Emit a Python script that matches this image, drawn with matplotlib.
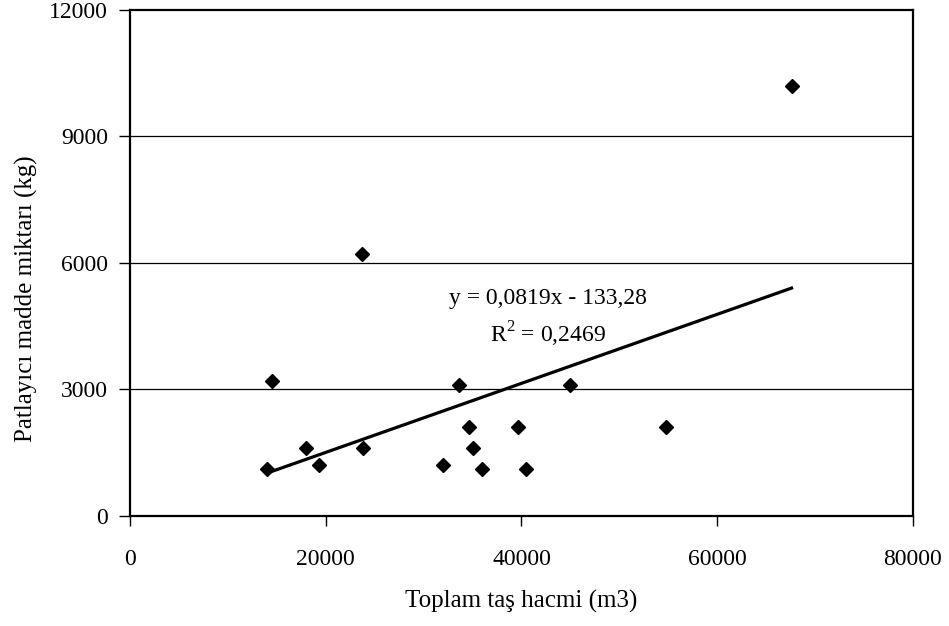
import numpy as np
import matplotlib
matplotlib.use("Agg")
import matplotlib.pyplot as plt

# rock volume (m3) vs explosive amount (kg)
volume = [14000, 14500, 18000, 19300, 23700, 23800, 32000, 33600,
          34600, 35000, 36000, 39600, 40500, 45000, 54800, 67600]
explosive = [1100, 3200, 1600, 1200, 6200, 1600, 1200, 3100,
             2100, 1600, 1100, 2100, 1100, 3100, 2100, 10200]

# linear trend as given on the chart
slope = 0.0819
intercept = -133.28
r_squared = 0.2469

x_ticks = [0, 20000, 40000, 60000, 80000]
y_ticks = [0, 3000, 6000, 9000, 12000]

plt.rcParams["font.family"] = ["Liberation Serif", "DejaVu Serif"]
plt.rcParams["mathtext.fontset"] = "custom"
plt.rcParams["mathtext.rm"] = "Liberation Serif"

fig = plt.figure(figsize=(9.49, 6.26), dpi=100)
ax = fig.add_axes([0.137, 0.176, 0.825, 0.808])

# horizontal grid lines
for yv in y_ticks[1:-1]:
    ax.axhline(yv, color="black", linewidth=0.9, zorder=1)

ax.plot(volume, explosive, linestyle="none", marker="D", markersize=7,
        color="black", zorder=3)

x_line = np.array([min(volume), max(volume)])
ax.plot(x_line, slope * x_line + intercept, color="black", linewidth=2.3, zorder=2)

ax.text(42700, 5150, "y = 0,0819x - 133,28", ha="center", va="center",
        fontsize=17)
ax.text(42700, 4300, r"R$^{\mathrm{2}}$ = 0,2469", ha="center", va="center",
        fontsize=17)

ax.set_xlim(0, 80000)
ax.set_ylim(0, 12000)
ax.set_xticks(x_ticks)
ax.set_yticks(y_ticks)
ax.tick_params(axis="x", direction="out", length=7, width=1, pad=17,
               labelsize=17)
ax.tick_params(axis="y", direction="out", length=8, width=1, pad=8,
               labelsize=17)

for side in ["left", "right", "top", "bottom"]:
    ax.spines[side].set_linewidth(1.6)

ax.set_xlabel("Toplam taş hacmi (m3)", fontsize=18, labelpad=14)
ax.set_ylabel("Patlayıcı madde miktarı (kg)", fontsize=18)
ax.yaxis.set_label_coords(-0.118, 0.43)

fig.savefig("out.png", dpi=100)
